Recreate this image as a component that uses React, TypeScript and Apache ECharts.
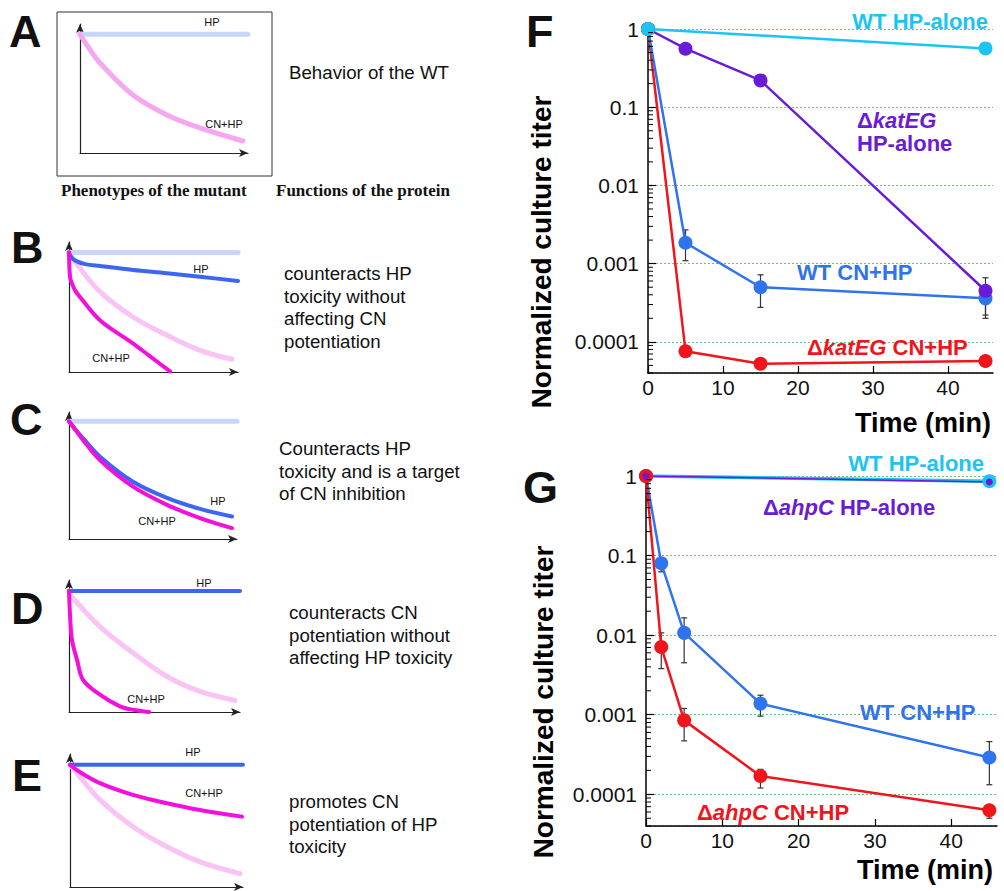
import React, { useEffect, useRef } from 'react';
import * as echarts from 'echarts';

// ---------- Schematic panels A–E (relative units: x 0–100, y 0–100) ----------
const refHpA = [[0, 92], [100, 92]];
const refCnA = [[0, 92], [5, 82], [11.9, 69.8], [31.5, 45], [51.8, 29.5], [71.4, 19.4], [97, 9.3]];

const refHpB = [[0, 92], [100, 92]];
const hpB = [[0, 92], [1.5, 88], [4, 85.5], [9.5, 83], [18.3, 81.5], [38, 78.5], [58, 76], [77.5, 73.3], [100, 70]];
const refCnB = [[0, 92], [4, 84], [18.3, 61.8], [37.9, 42.3], [58, 28.2], [77.5, 16.7], [96.4, 9.8]];
const cnB = [[0, 92], [0.6, 73.1], [1.8, 68], [3.6, 62.8], [6.5, 57.7], [18.3, 39.8], [38, 21.8], [48, 12], [59.8, 0.5]];

const refHpC = [[0, 92.7], [100, 92.7]];
const hpC = [[0, 92.7], [4, 86], [8.3, 79.4], [18.5, 64.8], [38.1, 45.1], [58.3, 32.4], [78, 23.7], [97, 17.7]];
const cnC = [[0, 92.7], [4, 85.5], [8.3, 78], [18.5, 62], [38.1, 41.2], [58.3, 26.9], [78, 16.5], [97, 8.6]];

const hpD = [[0, 91.6], [100, 91.6]];
const refCnD = [[0, 91.6], [1.6, 87.4], [18.1, 64.7], [37.4, 44.8], [57.3, 26.9], [76.6, 15.6], [97, 8.8]];
const cnD = [[0, 91.6], [0.6, 73.5], [1.75, 54.6], [4.7, 39.5], [8.2, 24.4], [18.1, 13.1], [29.8, 4.3], [37.4, 1.7], [46.8, 0]];

const hpE = [[0, 91.9], [100, 91.9]];
const refCnE = [[0, 91.9], [5, 84], [17.3, 65.5], [36.4, 45.3], [56.1, 30.2], [75.1, 18.9], [98.3, 10.1]];
const cnE = [[0, 91.9], [5, 87], [17.3, 78.1], [36.4, 69.3], [56.1, 63], [75.1, 57.9], [99.4, 52.9]];

// ---------- Panel F ----------
const fTime = [0, 5, 15, 45];
const fWtHpTime = [0, 45];
const fWtHpVal = [1, 0.565];
const fKatHpVal = [1, 0.56, 0.22, 4.5e-4];
const fWtCnVal = [1, 1.85e-3, 5.0e-4, 3.6e-4];
const fKatCnVal = [1, 7.6e-5, 5.25e-5, 5.7e-5];
const fErrors = [
  [5, 1.09e-3, 2.7e-3],
  [15, 2.76e-4, 7.2e-4],
  [45, 2.0e-4, 5.0e-4],
  [45, 2.2e-4, 6.6e-4],
];

// ---------- Panel G ----------
const gTime = [0, 2, 5, 15, 45];
const gHpTime = [0, 45];
const gWtHpVal = [1, 0.86];
const gAhpHpVal = [1, 0.84];
const gWtCnVal = [1, 0.08, 0.0107, 0.00138, 2.9e-4];
const gAhpCnVal = [1, 0.0071, 8.5e-4, 1.7e-4, 6.3e-5];
const gErrors = [
  [2, 0.0625, 0.09],
  [5, 0.0045, 0.0165],
  [15, 9.6e-4, 1.76e-3],
  [45, 1.32e-4, 4.6e-4],
  [2, 0.0038, 0.0107],
  [5, 4.7e-4, 1.2e-3],
  [15, 1.2e-4, 2.06e-4],
  [45, 5.0e-5, 6.8e-5],
];

const xTicks = [0, 10, 20, 30, 40];
const yTickLabels = ['1', '0.1', '0.01', '0.001', '0.0001'];
const minorMantissas = [2, 3, 4, 5, 6, 7, 8, 9];
const minorDecades = [-5, -4, -3, -2, -1];
const Y_MIN = 4e-5;

const FONT = '"Liberation Sans", Arial, Helvetica, sans-serif';
const SERIF = '"Liberation Serif", "Times New Roman", serif';

const C_CYAN = '#1cc4f2';
const C_PURPLE = '#6a1bd6';
const C_BLUE = '#2f73ee';
const C_RED = '#f0141c';
const C_SBLUE = '#3c66f2';
const C_MAG = '#f40fdd';
const C_REFBLUE = '#c8d6fb';
const C_REFPINK = '#fac3f6';

const zip = (xs: number[], ys: number[]) => xs.map((x, i) => [x, ys[i]]);

export default function App() {
  const ref = useRef<HTMLDivElement>(null);

  useEffect(() => {
    document.body.style.margin = '0';
    const chart = echarts.init(ref.current!, null, { renderer: 'svg' });

    const schemGrids = [
      { left: 80, top: 24, width: 168, height: 129 },
      { left: 69, top: 242, width: 169, height: 130 },
      { left: 69, top: 412, width: 168, height: 127 },
      { left: 69, top: 580, width: 171, height: 132 },
      { left: 70, top: 754, width: 173, height: 133 },
    ];
    const grids = [
      ...schemGrids,
      { left: 648, top: 29, width: 345, height: 344 },
      { left: 646, top: 476, width: 351, height: 350 },
    ];

    const schemAxis = (i: number) => ({
      gridIndex: i,
      type: 'value',
      min: 0,
      max: 100,
      axisLine: {
        show: true,
        symbol: ['none', 'arrow'],
        symbolSize: [6, 9],
        lineStyle: { color: '#222', width: 1.2 },
      },
      axisTick: { show: false },
      axisLabel: { show: false },
      splitLine: { show: false },
    });

    const xAxes: any[] = [0, 1, 2, 3, 4].map(schemAxis);
    const yAxes: any[] = [0, 1, 2, 3, 4].map(schemAxis);

    const yLabelFmt = (v: number) => {
      const l = Math.log10(v);
      if (Math.abs(l - Math.round(l)) > 0.01) return '';
      return yTickLabels[-Math.round(l)] ?? '';
    };

    [5, 6].forEach((g) => {
      xAxes.push({
        gridIndex: g,
        type: 'value',
        min: 0,
        max: 46,
        interval: 10,
        axisLine: { show: true, onZero: false, lineStyle: { color: '#000', width: 1.5 } },
        axisTick: { show: true, inside: true, length: 7, customValues: xTicks, lineStyle: { color: '#000', width: 1.2 } },
        axisLabel: { customValues: xTicks, fontSize: 21, color: '#111', fontFamily: FONT, margin: 4 },
        splitLine: { show: false },
      });
      yAxes.push({
        gridIndex: g,
        type: 'log',
        logBase: 10,
        min: Y_MIN,
        max: 1,
        axisLine: { show: true, onZero: false, lineStyle: { color: '#000', width: 1.5 } },
        axisTick: { show: true, inside: true, length: 8, lineStyle: { color: '#000', width: 1.2 } },
        axisLabel: { formatter: yLabelFmt, fontSize: 21, color: '#111', fontFamily: FONT, margin: 9, showMinLabel: false },
        splitLine: { show: true, lineStyle: { color: '#6cc46c', type: [2, 2], width: 1.2 } },
      });
    });

    const schemLine = (g: number, data: number[][], color: string, width: number, z = 2) => ({
      type: 'line',
      xAxisIndex: g,
      yAxisIndex: g,
      data,
      smooth: 0.35,
      showSymbol: false,
      symbol: 'none',
      z,
      lineStyle: { color, width, cap: 'round', join: 'round' },
      silent: true,
    });

    const errSeries = (g: number, data: number[][]) => ({
      type: 'custom',
      xAxisIndex: g,
      yAxisIndex: g,
      data,
      z: 1,
      silent: true,
      renderItem: (params: any, api: any) => {
        const x = api.value(0);
        const lo = api.value(1);
        const hi = api.value(2);
        const p1 = api.coord([x, hi]);
        const p2 = api.coord([x, lo]);
        const w = 3;
        const st = { stroke: '#333', lineWidth: 1.2 };
        return {
          type: 'group',
          children: [
            { type: 'line', shape: { x1: p1[0], y1: p1[1], x2: p2[0], y2: p2[1] }, style: st },
            { type: 'line', shape: { x1: p1[0] - w, y1: p1[1], x2: p1[0] + w, y2: p1[1] }, style: st },
            { type: 'line', shape: { x1: p2[0] - w, y1: p2[1], x2: p2[0] + w, y2: p2[1] }, style: st },
          ],
        };
      },
    });

    const minorVals: number[][] = [];
    minorDecades.forEach((d) =>
      minorMantissas.forEach((m) => {
        const v = m * Math.pow(10, d);
        if (v >= Y_MIN && v <= 1) minorVals.push([0, v]);
      })
    );
    const minorSeries = (g: number) => ({
      type: 'custom',
      xAxisIndex: g,
      yAxisIndex: g,
      data: minorVals,
      z: 5,
      silent: true,
      renderItem: (params: any, api: any) => {
        const p = api.coord([0, api.value(1)]);
        return {
          type: 'line',
          shape: { x1: p[0], y1: p[1], x2: p[0] + 5, y2: p[1] },
          style: { stroke: '#000', lineWidth: 1 },
        };
      },
    });

    const dataLine = (g: number, data: number[][], color: string, size: number, width: number, z = 2) => ({
      type: 'line',
      xAxisIndex: g,
      yAxisIndex: g,
      data,
      symbol: 'circle',
      symbolSize: size,
      showSymbol: true,
      z,
      silent: true,
      lineStyle: { color, width },
      itemStyle: { color },
    });

    const series: any[] = [
      // A
      schemLine(0, refHpA, C_REFBLUE, 5),
      schemLine(0, refCnA, '#f6a7f1', 5),
      // B
      schemLine(1, refHpB, C_REFBLUE, 5),
      schemLine(1, refCnB, C_REFPINK, 5),
      schemLine(1, hpB, C_SBLUE, 4, 3),
      schemLine(1, cnB, C_MAG, 4, 3),
      // C
      schemLine(2, refHpC, C_REFBLUE, 5),
      schemLine(2, hpC, C_SBLUE, 4, 3),
      schemLine(2, cnC, C_MAG, 4, 3),
      // D
      schemLine(3, refCnD, C_REFPINK, 5),
      schemLine(3, hpD, C_SBLUE, 4, 3),
      schemLine(3, cnD, C_MAG, 4, 3),
      // E
      schemLine(4, refCnE, C_REFPINK, 5),
      schemLine(4, hpE, C_SBLUE, 4, 3),
      schemLine(4, cnE, C_MAG, 4, 3),
      // F
      errSeries(5, fErrors),
      dataLine(5, zip(fTime, fKatCnVal), C_RED, 14, 2.5),
      dataLine(5, zip(fTime, fWtCnVal), C_BLUE, 14, 2.5),
      dataLine(5, zip(fTime, fKatHpVal), C_PURPLE, 14, 2.5),
      dataLine(5, zip(fWtHpTime, fWtHpVal), C_CYAN, 14, 2.5),
      minorSeries(5),
      // G
      errSeries(6, gErrors),
      dataLine(6, zip(gHpTime, gWtHpVal), C_CYAN, 14, 3.5),
      dataLine(6, zip(gTime, gWtCnVal), C_BLUE, 14, 2.5),
      dataLine(6, zip(gTime, gAhpCnVal), C_RED, 14, 2.5),
      dataLine(6, zip(gHpTime, gAhpHpVal), C_PURPLE, 7, 1.5),
      minorSeries(6),
    ];

    const txt = (x: number, y: number, text: string, o: any = {}) => ({
      type: 'text',
      x,
      y,
      z: 10,
      silent: true,
      rotation: o.rotation || 0,
      style: {
        text,
        fill: o.fill || '#111',
        fontSize: o.fontSize || 19,
        fontWeight: o.fontWeight || 'normal',
        fontFamily: o.fontFamily || FONT,
        textAlign: o.align || 'left',
        textVerticalAlign: o.valign || 'middle',
        lineHeight: o.lineHeight,
        rich: o.rich,
      },
    });

    const richFor = (color: string) => ({
      n: { fill: color, fontSize: 22, fontWeight: 'bold', fontFamily: FONT },
      i: { fill: color, fontSize: 22, fontWeight: 'bold', fontStyle: 'italic', fontFamily: FONT },
    });

    const small = { fontSize: 11, align: 'center' };
    const letter = { fontSize: 45, fontWeight: 'bold' };
    const bigBold = (fill: string, align = 'left') => ({ fill, fontSize: 22, fontWeight: 'bold', align });
    const block = { fontSize: 18.7, lineHeight: 22.7, valign: 'top' };

    const graphic: any[] = [
      { type: 'rect', shape: { x: 57, y: 12, width: 215, height: 164 }, style: { fill: 'none', stroke: '#333', lineWidth: 1 }, silent: true },
      txt(9, 31, 'A', letter),
      txt(11, 247, 'B', letter),
      txt(10, 419, 'C', letter),
      txt(11, 608, 'D', letter),
      txt(12, 775, 'E', letter),
      txt(212, 22, 'HP', small),
      txt(224, 124, 'CN+HP', small),
      txt(201, 269, 'HP', small),
      txt(111, 358, 'CN+HP', small),
      txt(218, 501, 'HP', small),
      txt(157, 521, 'CN+HP', small),
      txt(204, 583, 'HP', small),
      txt(146, 699, 'CN+HP', small),
      txt(193, 752, 'HP', small),
      txt(204, 793, 'CN+HP', small),
      txt(289, 72, 'Behavior of the WT', { fontSize: 18.7 }),
      txt(61, 190, 'Phenotypes of the mutant', { fontSize: 17, fontWeight: 'bold', fontFamily: SERIF }),
      txt(276, 190, 'Functions of the protein', { fontSize: 17, fontWeight: 'bold', fontFamily: SERIF }),
      txt(284, 262, 'counteracts HP\ntoxicity without\naffecting CN\npotentiation', block),
      txt(279, 437, 'Counteracts HP\ntoxicity and is a target\nof CN inhibition', block),
      txt(289, 601, 'counteracts CN\npotentiation without\naffecting HP toxicity', block),
      txt(289, 790, 'promotes CN\npotentiation of HP\ntoxicity', block),
      // F
      txt(526, 31, 'F', letter),
      txt(988, 21, 'WT HP-alone', bigBold(C_CYAN, 'right')),
      txt(857, 120, '{n|Δ}{i|katEG}', { rich: richFor(C_PURPLE), fill: C_PURPLE, fontSize: 22, fontWeight: 'bold' }),
      txt(857, 143, 'HP-alone', bigBold(C_PURPLE)),
      txt(797, 272, 'WT CN+HP', bigBold(C_BLUE)),
      txt(807, 347, '{n|Δ}{i|katEG}{n| CN+HP}', { rich: richFor(C_RED), fill: C_RED, fontSize: 22, fontWeight: 'bold' }),
      txt(991, 423, 'Time (min)', { fontSize: 27, fontWeight: 'bold', align: 'right', fill: '#000' }),
      txt(541, 252, 'Normalized culture titer', { fontSize: 28, fontWeight: 'bold', align: 'center', rotation: Math.PI / 2, fill: '#000' }),
      // G
      txt(523, 487, 'G', letter),
      txt(984, 463, 'WT HP-alone', bigBold(C_CYAN, 'right')),
      txt(763, 507, '{n|Δ}{i|ahpC}{n| HP-alone}', { rich: richFor(C_PURPLE), fill: C_PURPLE, fontSize: 22, fontWeight: 'bold' }),
      txt(860, 712, 'WT CN+HP', bigBold(C_BLUE)),
      txt(697, 812, '{n|Δ}{i|ahpC}{n| CN+HP}', { rich: richFor(C_RED), fill: C_RED, fontSize: 22, fontWeight: 'bold' }),
      txt(993, 870, 'Time (min)', { fontSize: 27, fontWeight: 'bold', align: 'right', fill: '#000' }),
      txt(543, 702, 'Normalized culture titer', { fontSize: 28, fontWeight: 'bold', align: 'center', rotation: Math.PI / 2, fill: '#000' }),
    ];

    chart.setOption({
      animation: false,
      backgroundColor: '#ffffff',
      textStyle: { fontFamily: FONT },
      grid: grids,
      xAxis: xAxes,
      yAxis: yAxes,
      series,
      graphic,
    });

    return () => chart.dispose();
  }, []);

  return <div ref={ref} style={{ width: 1004, height: 891 }} />;
}
